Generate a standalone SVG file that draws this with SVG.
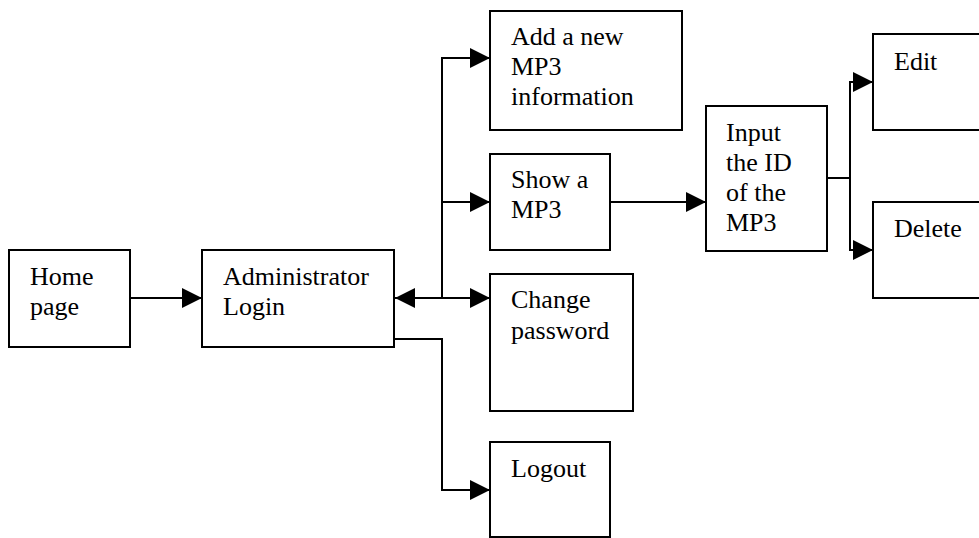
<svg xmlns="http://www.w3.org/2000/svg" width="979" height="538" viewBox="0 0 979 538">
<style>
.box{fill:#fff;stroke:#000;stroke-width:2}
.ln{fill:none;stroke:#000;stroke-width:2}
text{font-family:"Liberation Serif","Times New Roman",serif;font-size:26px;fill:#000}
</style>
<defs>
<marker id="ah" markerUnits="userSpaceOnUse" markerWidth="20" markerHeight="20" refX="20" refY="10" orient="auto-start-reverse" viewBox="0 0 20 20">
<path d="M0,0 L20,10 L0,20 z" fill="#000"/>
</marker>
</defs>
<rect width="979" height="538" fill="#fff"/>
<g id="connectors">
<line class="ln" x1="130" y1="298" x2="202" y2="298" marker-end="url(#ah)"/>
<line class="ln" x1="395" y1="298" x2="490" y2="298" marker-start="url(#ah)" marker-end="url(#ah)"/>
<polyline class="ln" points="442,298 442,58 490,58" marker-end="url(#ah)"/>
<line class="ln" x1="442" y1="202" x2="490" y2="202" marker-end="url(#ah)"/>
<polyline class="ln" points="395,339 442,339 442,490 490,490" marker-end="url(#ah)"/>
<line class="ln" x1="610" y1="202" x2="706" y2="202" marker-end="url(#ah)"/>
<polyline class="ln" points="827,178 850,178"/>
<polyline class="ln" points="873,82 850,82 850,250 873,250"/>
<line class="ln" x1="850" y1="82" x2="873" y2="82" marker-end="url(#ah)"/>
<line class="ln" x1="850" y1="250" x2="873" y2="250" marker-end="url(#ah)"/>
</g>
<g id="home">
<rect class="box" x="9" y="250" width="121" height="97"/>
<text x="30" y="285">Home</text>
<text x="30" y="315">page</text>
</g>
<g id="admin">
<rect class="box" x="202" y="250" width="192" height="97"/>
<text x="223" y="285">Administrator</text>
<text x="223" y="315">Login</text>
</g>
<g id="add">
<rect class="box" x="490" y="11" width="192" height="119"/>
<text x="511" y="45">Add a new</text>
<text x="511" y="75">MP3</text>
<text x="511" y="105">information</text>
</g>
<g id="show">
<rect class="box" x="490" y="154" width="120" height="96"/>
<text x="511" y="188">Show a</text>
<text x="511" y="218">MP3</text>
</g>
<g id="change">
<rect class="box" x="490" y="274" width="143" height="137"/>
<text x="511" y="308">Change</text>
<text x="511" y="339">password</text>
</g>
<g id="logout">
<rect class="box" x="490" y="442" width="120" height="95"/>
<text x="511" y="477">Logout</text>
</g>
<g id="input">
<rect class="box" x="706" y="106" width="121" height="145"/>
<text x="726" y="141">Input</text>
<text x="726" y="171">the ID</text>
<text x="726" y="201">of the</text>
<text x="726" y="231">MP3</text>
</g>
<g id="edit">
<rect class="box" x="873" y="34" width="130" height="96"/>
<text x="894" y="70">Edit</text>
</g>
<g id="delete">
<rect class="box" x="873" y="202" width="130" height="96"/>
<text x="894" y="237">Delete</text>
</g>
</svg>
